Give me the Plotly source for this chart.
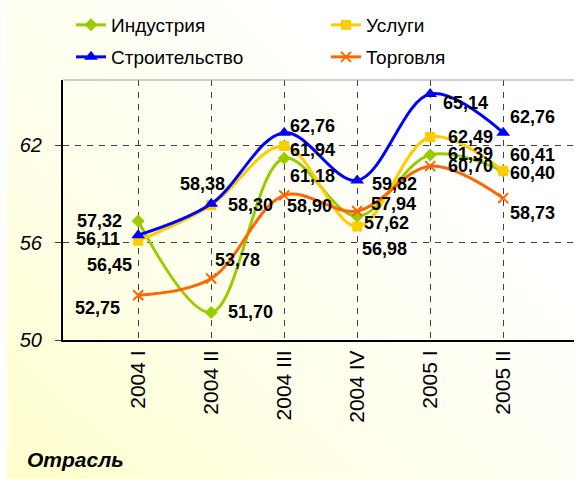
import base64
import plotly.graph_objects as go

categories = ["2004 I", "2004 II", "2004 III", "2004 IV", "2005 I", "2005 II"]
industry = [57.32, 51.70, 61.18, 57.62, 61.39, 60.40]
services = [56.11, 58.30, 61.94, 56.98, 62.49, 60.41]
construction = [56.45, 58.38, 62.76, 59.82, 65.14, 62.76]
trade = [52.75, 53.78, 58.90, 57.94, 60.70, 58.73]
y_ticks = [50, 56, 62]
x_title = "Отрасль"

# label offsets (px) per series per point: (xshift, yshift)
label_offsets = {
    "Индустрия": [(-39, 0), (39, 0), (28, -18), (29, -7), (40, 1), (29, -2)],
    "Услуги": [(-40, 2), (39, 0), (28, -4), (27, -22), (40, 0), (29, 16)],
    "Строительство": [(-29, -30), (-9, 20), (28, 7), (37, -4), (35, -9), (29, 16)],
    "Торговля": [(-41, -13), (26, 19), (25, -11), (36, 7), (40, 0), (29, -15)],
}

# legend slot per series: (left px, center y px)
legend_slots = {
    "Индустрия": (71, 25),
    "Услуги": (326, 25),
    "Строительство": (71, 57),
    "Торговля": (326, 57),
}

series = [
    ("Индустрия", industry, "#99CC00", dict(symbol="diamond", size=10)),
    ("Услуги", services, "#FFCC00", dict(symbol="square", size=10)),
    ("Строительство", construction, "#0000FF", dict(symbol="triangle-up", size=12)),
    ("Торговля", trade, "#FF6600", dict(symbol="x-thin", size=10, line=dict(width=2, color="#FF6600"))),
]

fig = go.Figure()
annotations = []
legends = {}
for i, (name, vals, color, mk) in enumerate(series):
    lg = "legend" if i == 0 else f"legend{i + 1}"
    lx, ly = legend_slots[name]
    legends[lg] = dict(
        orientation="h", xref="container", yref="container",
        x=lx / 574, y=1 - ly / 479, xanchor="left", yanchor="middle",
        font=dict(size=19, family="Liberation Sans, Arial"),
        bgcolor="rgba(0,0,0,0)",
    )
    marker = dict(color=color, **mk)
    fig.add_trace(go.Scatter(
        x=categories, y=vals, name=name, mode="lines+markers",
        line=dict(color=color, width=3, shape="spline", smoothing=1.0),
        marker=marker, legend=lg,
    ))
    for c, v, (dx, dy) in zip(categories, vals, label_offsets[name]):
        annotations.append(dict(
            x=c, y=v, xref="x", yref="y", text=f"{v:.2f}".replace(".", ","),
            showarrow=False, xshift=dx, yshift=dy,
            font=dict(family="Liberation Sans, Arial", size=18, color="black", weight="bold"),
            xanchor="center", yanchor="middle",
        ))

annotations.append(dict(
    x=(25 - 63) / 511, y=(340 - 459) / 260, xref="paper", yref="paper",
    text=f"<b><i>{x_title}</i></b>", showarrow=False, xanchor="left", yanchor="middle",
    font=dict(family="Liberation Sans, Arial", size=21, color="black"),
))

svg = (
    '<svg xmlns="http://www.w3.org/2000/svg" width="567" height="479" preserveAspectRatio="none">'
    '<defs><linearGradient id="g" x1="0" y1="1" x2="0.8" y2="0.3">'
    '<stop offset="0" stop-color="#FFFFCC"/><stop offset="0.45" stop-color="#FFFFEA"/>'
    '<stop offset="1" stop-color="#FFFFFF"/></linearGradient></defs>'
    '<rect width="567" height="479" fill="url(#g)"/></svg>'
)
src = "data:image/svg+xml;base64," + base64.b64encode(svg.encode()).decode()

fig.update_layout(
    width=574, height=479,
    margin=dict(l=63, r=0, t=80, b=139, autoexpand=False),
    paper_bgcolor="white", plot_bgcolor="rgba(0,0,0,0)",
    font=dict(family="Liberation Sans, Arial", color="black"),
    showlegend=True,
    annotations=annotations,
    images=[dict(
        source=src, xref="paper", yref="paper",
        x=(7 - 63) / 511, y=340 / 260, sizex=567 / 511, sizey=479 / 260,
        xanchor="left", yanchor="top", sizing="stretch", layer="below",
    )],
    shapes=[dict(type="line", xref="paper", yref="paper", x0=0, x1=1, y0=1, y1=1,
                 line=dict(color="#A0A0A0", width=1))],
    **legends,
)

fig.update_xaxes(
    type="category", categoryorder="array", categoryarray=categories,
    range=[-1.03, 5.97], showgrid=True, gridcolor="#404040", gridwidth=1,
    griddash="6px,6px", showline=True, linecolor="black", linewidth=2,
    ticks="", tickangle=-90, tickfont=dict(size=21), zeroline=False,
)
fig.update_yaxes(
    range=[50, 66], tickvals=y_ticks, ticktext=[str(t) for t in y_ticks],
    showgrid=True, gridcolor="#404040", gridwidth=1, griddash="6px,6px",
    showline=True, linecolor="black", linewidth=2, ticks="outside", ticklen=6,
    tickcolor="#404040", tickfont=dict(size=20, style="italic"), ticklabelstandoff=9,
    zeroline=False,
)

fig.write_html(
    "out.html",
    config={"displayModeBar": False},
    post_script="document.body.style.margin='0';document.body.style.padding='0';",
)
